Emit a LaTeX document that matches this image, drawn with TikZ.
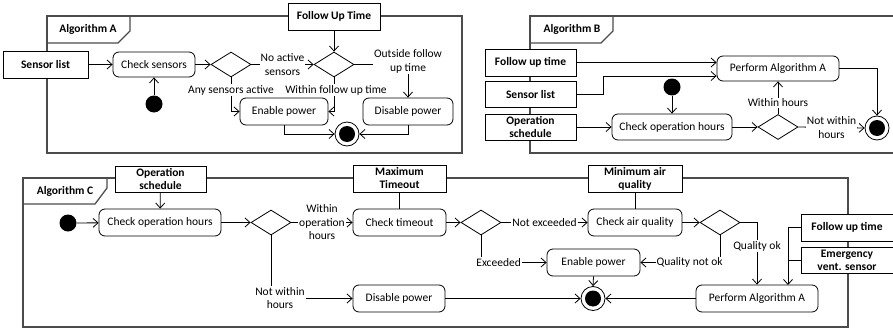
\documentclass[tikz,border=0pt]{standalone}
\usepackage{fontspec}
\setmainfont{Carlito}
\usetikzlibrary{arrows.meta,shapes.geometric}
\newcommand\dgsize{\fontsize{11.5}{13.5}\selectfont}
\begin{document}
\begin{tikzpicture}[x=1pt,y=-1pt,line width=0.8pt,font=\dgsize,
  framebox/.style={draw=black!70,line width=1.3pt},
  tabtext/.style={font=\dgsize\bfseries,inner sep=0pt},
  action/.style={draw,fill=white,rounded corners=6pt,minimum height=26pt,inner sep=2pt,font=\dgsize},
  pinbox/.style={draw,fill=white,align=center,minimum height=27pt,inner sep=0pt,
    font=\fontsize{11.5}{13}\selectfont\bfseries},
  decision/.style={diamond,draw,fill=white,minimum width=40pt,minimum height=25pt,inner sep=0pt},
  initial/.style={circle,fill=black,minimum size=17pt,inner sep=0pt},
  final/.style={circle,draw,fill=white,minimum size=24pt,inner sep=0pt,
    path picture={\fill[black] (path picture bounding box.center) circle (8pt);}},
  flow/.style={-{Straight Barb[length=5pt,width=9pt]}},
  guard/.style={fill=white,inner sep=1pt,align=center,font=\dgsize}]
\useasboundingbox (0,0) rectangle (893,329);

% ---------------- Algorithm A ----------------
\draw[framebox] (47,16) rectangle (462,153);
\draw[framebox] (47,43) -- (118,43) -- (130,31) -- (130,16);
\node[tabtext] (tabA) at (88,29) {Algorithm A};

\node[pinbox,minimum width=85pt] (sensA) at (45.5,64.5) {Sensor list};
\node[pinbox,minimum width=92pt] (fupA) at (334,16.5) {Follow Up Time};
\node[action,minimum width=82pt,minimum height=25pt] (chkS) at (154,64.5) {Check sensors};
\node[initial] (iniA) at (154,104) {};
\node[decision] (dA1) at (231,64.5) {};
\node[decision] (dA2) at (334,64.5) {};
\node[action,minimum width=88pt,minimum height=27pt] (enA) at (284,111.5) {Enable power};
\node[action,minimum width=90pt,minimum height=27pt] (disA) at (408,111.5) {Disable power};
\node[final] (finA) at (347,134) {};

\draw[flow] (sensA) -- (chkS);
\draw[flow] (iniA) -- (chkS);
\draw[flow] (chkS) -- (dA1);
\draw[flow] (dA1.east) -- node[guard]{No active\\sensors} (dA2.west);
\draw[flow] (fupA) -- (dA2);
\draw[flow] (dA2.east) -| node[guard,pos=0.5,yshift=3pt]{Outside follow\\up time} (disA.north);
\draw[flow] (dA1.south) |- (enA.west);
\node[guard] (gAny) at (231,90) {Any sensors active};
\draw[flow] (dA2.south) |- (enA.east);
\node[guard] (gWfu) at (336,90) {Within follow up time};
\draw[flow] (enA.south) |- (finA.west);
\draw[flow] (disA.south) |- (finA.east);

% ---------------- Algorithm B ----------------
\draw[framebox] (900,16) -- (530,16) -- (530,153) -- (900,153);
\draw[framebox] (530,43) -- (601,43) -- (613,31) -- (613,16);
\node[tabtext] (tabB) at (572,29) {Algorithm B};

\node[pinbox,minimum width=91pt] (fupB) at (530.5,62.5) {Follow up time};
\node[pinbox,minimum width=91pt,minimum height=26pt] (sensB) at (530.5,94.5) {Sensor list};
\node[pinbox,minimum width=91pt,minimum height=26pt] (opsB) at (530.5,127) {Operation\\schedule};
\node[action,minimum width=122pt,minimum height=25pt] (perfB) at (778,68.5) {Perform Algorithm A};
\node[initial] (iniB) at (672,87) {};
\node[action,minimum width=120pt] (chkOB) at (672,127) {Check operation hours};
\node[decision] (dB) at (778,127) {};
\node[final] (finB) at (877,128) {};

\draw[flow] (fupB.east) -- ([yshift=6pt]perfB.west);
\draw[flow] (sensB.east) -- ++(27,0) |- ([yshift=-7.5pt]perfB.west);
\draw[flow] (iniB) -- (chkOB);
\draw[flow] (opsB) -- (chkOB);
\draw[flow] (chkOB) -- (dB);
\draw[flow] (dB.north) -- node[guard,pos=0.35]{Within hours} (perfB.south);
\draw[flow] (dB.east) -- node[guard]{Not within\\hours} (finB.west);
\draw[flow] (perfB.east) -| (finB.north);

% ---------------- Algorithm C ----------------
\draw[framebox] (23,178) rectangle (848,327);
\draw[framebox] (23,204) -- (95,204) -- (107,188) -- (107,178);
\node[tabtext] (tabC) at (65,191) {Algorithm C};

\node[pinbox,minimum width=91pt,minimum height=26pt] (opsC) at (160.5,179) {Operation\\schedule};
\node[pinbox,minimum width=93pt] (maxTO) at (399.5,178.5) {Maximum\\Timeout};
\node[pinbox,minimum width=94pt] (minAQ) at (635,178.5) {Minimum air\\quality};
\node[pinbox,minimum width=92pt] (fupC) at (847,227.5) {Follow up time};
\node[pinbox,minimum width=92pt,minimum height=26pt] (emgC) at (847,260) {Emergency\\vent. sensor};

\node[initial] (iniC) at (68,223) {};
\node[action,minimum width=122pt,minimum height=27pt] (chkOC) at (160,222.5) {Check operation hours};
\node[decision] (dC1) at (271,222.5) {};
\node[action,minimum width=93pt,minimum height=27pt] (chkTO) at (399.5,222.5) {Check timeout};
\node[decision] (dC2) at (481,222.5) {};
\node[action,minimum width=94pt,minimum height=27pt] (chkAQ) at (635,222.5) {Check air quality};
\node[decision] (dC3) at (720,222.5) {};
\node[action,minimum width=93pt,minimum height=27pt] (enC) at (593.5,262.5) {Enable power};
\node[action,minimum width=92pt,minimum height=27pt] (disC) at (399,298.5) {Disable power};
\node[final] (finC) at (593,298.5) {};
\node[action,minimum width=122pt,minimum height=27pt] (perfC) at (757,298.5) {Perform Algorithm A};
\coordinate (jC) at (788,285);

\draw[flow] (opsC) -- (chkOC);
\draw[flow] (iniC) -- (chkOC);
\draw[flow] (chkOC) -- (dC1);
\draw[flow] (dC1.east) -- node[guard]{Within\\operation\\hours} (chkTO.west);
\draw (maxTO) -- (chkTO);
\draw[flow] (chkTO) -- (dC2);
\draw[flow] (dC2.east) -- node[guard]{Not exceeded} (chkAQ.west);
\draw (minAQ) -- (chkAQ);
\draw[flow] (chkAQ) -- (dC3);
\draw[flow] (dC3.east) -| node[guard,pos=0.69]{Quality ok} (perfC.north);
\draw[flow] (dC3.south) |- (enC.east);
\node[guard,anchor=east] (gQno) at (724,262.5) {Quality not ok};
\draw[flow] (dC2.south) |- (enC.west);
\node[guard,anchor=west] (gExc) at (475,262.5) {Exceeded};
\draw[flow] (dC1.south) |- (disC.west);
\node[guard] (gNwC) at (280,298) {Not within\\hours};
\draw[flow] (disC) -- (finC);
\draw[flow] (enC.south) -- (finC.north);
\draw[flow] (perfC) -- (finC);
\draw[flow] (fupC.west) -| (jC);
\draw (emgC.west) -- (emgC.west -| jC);
\end{tikzpicture}
\end{document}
